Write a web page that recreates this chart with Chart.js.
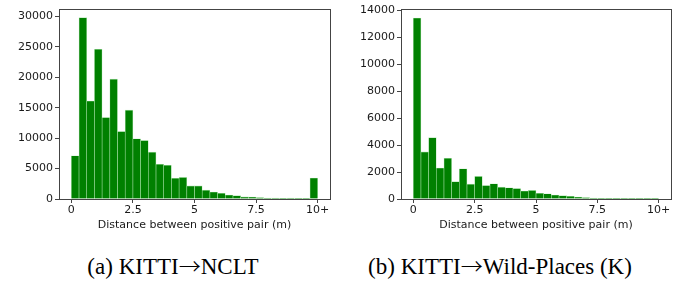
<!DOCTYPE html>
<html>
<head>
<meta charset="utf-8">
<script src="https://cdn.jsdelivr.net/npm/chart.js@4"></script>
<style>
    body { margin: 0; background: #fff; width: 699px; height: 283px; position: relative; overflow: hidden; }
    .box { position: absolute; top: 0; height: 232px; }
    .cap { position: absolute; top: 253px; line-height: 23px; font-family: "Liberation Serif", "DejaVu Serif", serif; font-size: 23px; color: #000; white-space: nowrap; transform: translateX(-50%); }
    .arr { font-family: "Noto Sans CJK JP", "DejaVu Sans", sans-serif; font-weight: 300; font-size: 22px; }
</style>
</head>
<body>
<div class="box" style="left:0;width:345px"><canvas id="ncltChart" width="345" height="232"></canvas></div>
<div class="box" style="left:350px;width:349px"><canvas id="wildChart" width="349" height="232"></canvas></div>
<div class="cap" style="left:173px">(a) KITTI<span class="arr">→</span>NCLT</div>
<div class="cap" style="left:500px">(b) KITTI<span class="arr">→</span>Wild-Places (K)</div>
<script>
// 32 bins of 0.3125 m from 0 to 10, last bin holds everything >= 10
const BIN_W = 10 / 32;
const xTicks = [0, 2.5, 5, 7.5, 10];

const ncltCounts = [7100, 29800, 16100, 24600, 13400, 19700, 11100, 14600,
    9900, 9600, 7700, 5700, 5550, 3400, 3550, 2150,
    2150, 1450, 1150, 950, 650, 550, 350, 330,
    230, 170, 160, 110, 170, 60, 110, 3450];
const ncltYTicks = [0, 5000, 10000, 15000, 20000, 25000, 30000];

const wildCounts = [13450, 3500, 4560, 2300, 3020, 1290, 2240, 1100,
    1680, 1000, 1130, 880, 830, 780, 590, 640,
    420, 390, 290, 250, 200, 150, 100, 70,
    50, 30, 20, 15, 10, 10, 10, 30];
const wildYTicks = [0, 2000, 4000, 6000, 8000, 10000, 12000, 14000];

const tickFont = { family: 'DejaVu Sans', size: 11 };

const frame = {
    id: 'frame',
    afterDraw(chart) {
        const a = chart.chartArea, ctx = chart.ctx;
        ctx.save();
        ctx.strokeStyle = '#444';
        ctx.lineWidth = 1;
        ctx.strokeRect(Math.round(a.left) + 0.5, Math.round(a.top) + 0.5,
            Math.round(a.right - a.left), Math.round(a.bottom - a.top));
        ctx.restore();
    }
};

function histo(id, counts, yTicks, yMax, yWidth, pad) {
    const pts = counts.map((c, i) => ({ x: (i + 0.5) * BIN_W, y: c }));
    new Chart(document.getElementById(id), {
        type: 'bar',
        data: {
            datasets: [{
                data: pts,
                backgroundColor: '#008000',
                borderColor: 'rgba(150,220,150,0.7)',
                borderWidth: 0.6,
                barPercentage: 1,
                categoryPercentage: 1
            }]
        },
        options: {
            responsive: false,
            animation: false,
            layout: { padding: pad },
            plugins: { legend: { display: false }, tooltip: { enabled: false } },
            scales: {
                x: {
                    type: 'linear',
                    min: -0.5,
                    max: 10.5,
                    offset: false,
                    afterBuildTicks: s => { s.ticks = xTicks.map(v => ({ value: v })); },
                    afterFit: s => { s.height = 33; },
                    grid: { offset: false, drawOnChartArea: false, tickLength: 4, color: '#444' },
                    border: { display: false },
                    ticks: {
                        font: tickFont, color: '#1a1a1a', padding: 1, maxRotation: 0,
                        callback: v => v === 10 ? '10+' : String(v)
                    },
                    title: {
                        display: true, text: 'Distance between positive pair (m)',
                        font: tickFont, color: '#1a1a1a', padding: { top: 0, bottom: 0 }
                    }
                },
                y: {
                    min: 0,
                    max: yMax,
                    afterBuildTicks: s => { s.ticks = yTicks.map(v => ({ value: v })); },
                    afterFit: s => { s.width = yWidth; },
                    grid: { drawOnChartArea: false, tickLength: 4, color: '#444' },
                    border: { display: false },
                    ticks: { font: tickFont, color: '#1a1a1a', padding: 2, callback: v => String(v) }
                }
            }
        },
        plugins: [frame]
    });
}

histo('ncltChart', ncltCounts, ncltYTicks, 31290, 59, { top: 5, right: 15, left: 0, bottom: 0 });
histo('wildChart', wildCounts, wildYTicks, 14147, 51, { top: 7, right: 28, left: 0, bottom: 0 });
</script>
</body>
</html>
